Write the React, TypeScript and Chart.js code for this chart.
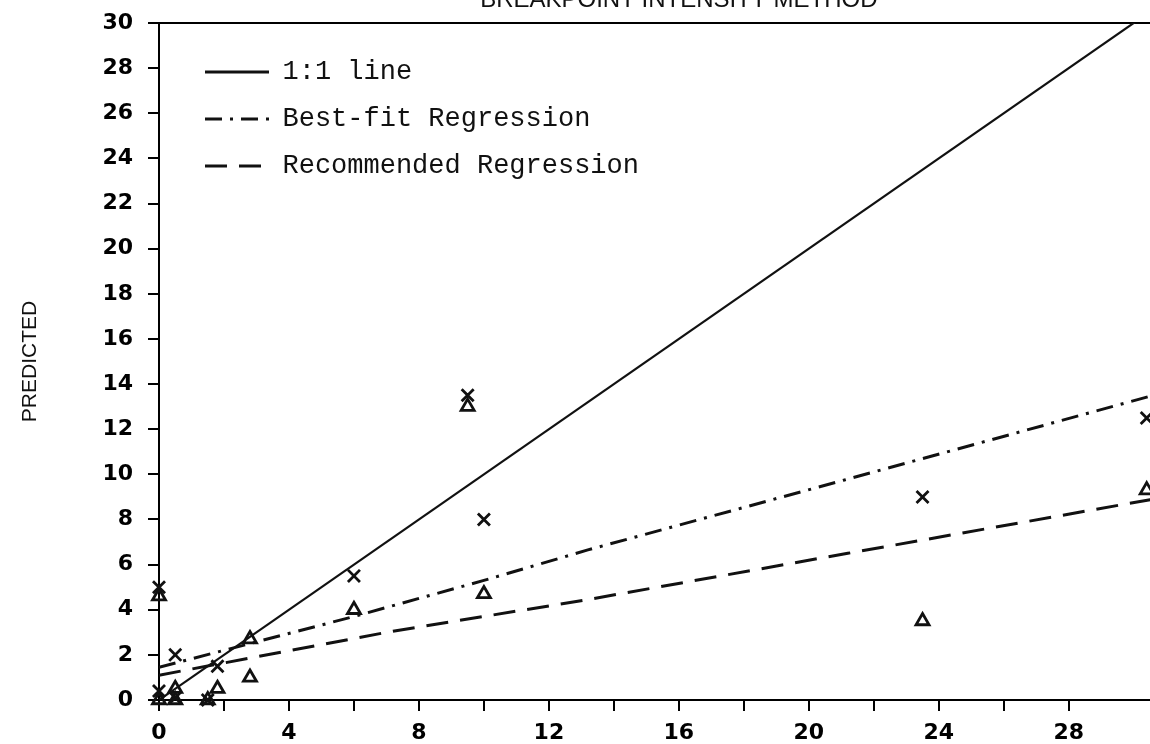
import React, { useEffect, useRef } from 'react';
import { Chart, registerables } from 'chart.js';

Chart.register(...registerables);

// ---- text ----
const chartTitle = 'BREAKPOINT INTENSITY METHOD';
const yAxisTitle = 'PREDICTED';
const legendNames = ['1:1 line', 'Best-fit Regression', 'Recommended Regression'];
const markerNames = ['Predicted (×)', 'Predicted (Δ)'];

// ---- ticks ----
const xTickLabels = [0, 4, 8, 12, 16, 20, 24, 28];
const yTickLabels = [0, 2, 4, 6, 8, 10, 12, 14, 16, 18, 20, 22, 24, 26, 28, 30];

// ---- lines ----
const oneToOneX = [0, 32];
const oneToOneY = [0, 32];
const bestFitX = [0, 6, 10, 13.2, 21.1, 30.6];
const bestFitY = [1.45, 3.7, 5.3, 6.65, 9.75, 13.5];
const recommendedX = [0, 7.2, 13.2, 21.2, 30.6];
const recommendedY = [1.1, 3.05, 4.45, 6.5, 8.9];

// ---- markers ----
const crossX = [0, 0, 0.5, 0.5, 1.5, 1.8, 6, 9.5, 10, 23.5, 30.4];
const crossY = [5.0, 0.4, 2.0, 0.1, 0, 1.5, 5.5, 13.5, 8.0, 9.0, 12.5];
const triX = [0, 0, 0.5, 0.5, 1.5, 1.8, 2.8, 2.8, 6, 9.5, 10, 23.5, 30.4];
const triY = [4.6, 0, 0.5, 0, 0, 0.5, 1.0, 2.7, 4.0, 13.0, 4.7, 3.5, 9.3];

const zip = (xs: number[], ys: number[]) => xs.map((x, i) => ({ x, y: ys[i] }));

export default function App() {
  const ref = useRef<HTMLCanvasElement>(null);

  useEffect(() => {
    const canvas = ref.current;
    if (!canvas) return;

    const legendPlacement = {
      id: 'legendPlacement',
      afterLayout(chart: any) {
        const lg = chart.legend;
        const ca = chart.chartArea;
        if (!lg || !ca) return;
        lg.left = ca.left + 26;
        lg.top = ca.top + 15.5;
        lg.right = ca.right;
        lg.bottom = ca.bottom;
      },
    };

    const ink = '#111';
    const tickFont = { family: 'DejaVu Sans', size: 22, weight: 'bold' as const };
    const baseGenerate = (Chart.defaults as any).plugins.legend.labels.generateLabels;

    const chart = new Chart(canvas, {
      type: 'scatter',
      data: {
        datasets: [
          {
            label: legendNames[0],
            data: zip(oneToOneX, oneToOneY),
            showLine: true,
            borderColor: ink,
            backgroundColor: ink,
            borderWidth: 2.2,
            pointRadius: 0,
          },
          {
            label: legendNames[1],
            data: zip(bestFitX, bestFitY),
            showLine: true,
            borderColor: ink,
            backgroundColor: ink,
            borderWidth: 3,
            borderDash: [17, 8, 3, 8],
            pointRadius: 0,
          },
          {
            label: legendNames[2],
            data: zip(recommendedX, recommendedY),
            showLine: true,
            borderColor: ink,
            backgroundColor: ink,
            borderWidth: 3,
            borderDash: [22, 12],
            pointRadius: 0,
          },
          {
            label: markerNames[0],
            data: zip(crossX, crossY),
            pointStyle: 'crossRot',
            pointRadius: 8.5,
            borderColor: ink,
            backgroundColor: ink,
            borderWidth: 2.8,
            clip: false as any,
          },
          {
            label: markerNames[1],
            data: zip(triX, triY),
            pointStyle: 'triangle',
            pointRadius: 7.5,
            borderColor: ink,
            backgroundColor: 'rgba(0,0,0,0)',
            borderWidth: 2.8,
            clip: false as any,
          },
        ],
      },
      options: {
        responsive: false,
        animation: false,
        devicePixelRatio: 1,
        layout: { padding: { left: 0, right: 5, top: 0, bottom: 0 } },
        plugins: {
          title: {
            display: true,
            text: chartTitle,
            fullSize: false,
            color: ink,
            font: { family: 'Liberation Sans', size: 24, weight: 'normal', lineHeight: 1.2 },
            padding: { top: 6, bottom: 8.2 },
          },
          legend: {
            display: true,
            position: 'chartArea',
            align: 'start',
            fullSize: false,
            labels: {
              usePointStyle: true,
              pointStyle: 'line',
              pointStyleWidth: 64,
              padding: 20,
              color: ink,
              font: { family: 'Liberation Mono', size: 27 },
              generateLabels: (c: any) =>
                baseGenerate(c)
                  .filter((item: any) => item.datasetIndex < 3)
                  .map((item: any) => {
                    const ds = c.data.datasets[item.datasetIndex];
                    return {
                      ...item,
                      pointStyle: 'line',
                      lineDash: ds.borderDash || [],
                      lineWidth: 3,
                      strokeStyle: ds.borderColor,
                    };
                  }),
            },
          },
          tooltip: { enabled: false },
        },
        scales: {
          x: {
            type: 'linear',
            position: 'bottom',
            min: 0,
            max: 32,
            afterFit: (s: any) => {
              s.height = 44;
            },
            ticks: {
              stepSize: 2,
              autoSkip: false,
              maxRotation: 0,
              padding: 9,
              color: '#000',
              font: tickFont,
              callback: (v: any) =>
                xTickLabels.includes(v) ? String(v) : v <= 28 ? '' : null,
            },
            grid: {
              display: true,
              drawOnChartArea: false,
              drawTicks: true,
              tickLength: 11,
              color: '#000',
              lineWidth: 2,
            },
            border: { display: true, color: '#000', width: 2 },
          },
          xTop: {
            type: 'linear',
            position: 'top',
            min: 0,
            max: 32,
            ticks: { display: false },
            grid: { display: false, drawTicks: false },
            border: { display: true, color: '#000', width: 2 },
          },
          y: {
            type: 'linear',
            position: 'left',
            min: 0,
            max: 30,
            afterFit: (s: any) => {
              s.width = 159;
            },
            ticks: {
              stepSize: 2,
              autoSkip: false,
              padding: 15,
              color: '#000',
              font: tickFont,
              callback: (v: any) => (yTickLabels.includes(v) ? String(v) : ''),
            },
            grid: {
              display: true,
              drawOnChartArea: false,
              drawTicks: true,
              tickLength: 11,
              color: '#000',
              lineWidth: 2,
            },
            border: { display: true, color: '#000', width: 2 },
            title: {
              display: true,
              text: yAxisTitle,
              color: ink,
              font: { family: 'Liberation Sans', size: 21 },
              padding: { top: 17.4, bottom: 0 },
            },
          },
        },
      } as any,
      plugins: [legendPlacement],
    });

    return () => chart.destroy();
  }, []);

  return (
    <div
      style={{
        position: 'fixed',
        left: 0,
        top: 0,
        width: 1150,
        height: 744,
        overflow: 'hidden',
        background: '#fff',
      }}
    >
      <canvas
        ref={ref}
        width={1210}
        height={764}
        style={{ position: 'absolute', left: 0, top: -20, width: 1210, height: 764 }}
      />
    </div>
  );
}
